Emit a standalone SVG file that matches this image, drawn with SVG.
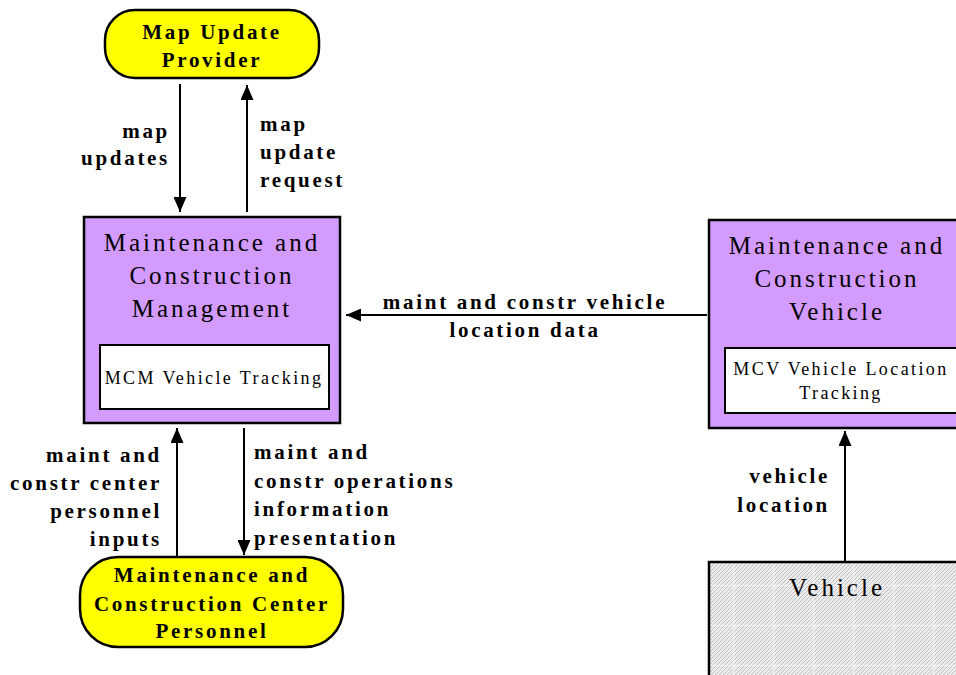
<svg xmlns="http://www.w3.org/2000/svg" width="956" height="675" viewBox="0 0 956 675">
<defs>
<style>
.term{fill:#ffff00;stroke:#000;stroke-width:2.5}
.proc{fill:#d49bff;stroke:#000;stroke-width:2.5}
.sub{fill:#fff;stroke:#000;stroke-width:2}
.tb{font-family:'Liberation Serif','Times New Roman',Tinos,Times,serif;font-weight:bold;font-size:21px;letter-spacing:2.7px;fill:#000}
.tt{font-family:'Liberation Serif','Times New Roman',Tinos,Times,serif;font-size:25px;letter-spacing:3px;fill:#000;text-anchor:middle}
.ts{font-family:'Liberation Serif','Times New Roman',Tinos,Times,serif;font-size:18px;letter-spacing:2.4px;fill:#000;text-anchor:middle}
.flow{stroke:#000;stroke-width:2;fill:none;marker-end:url(#ah)}
</style>
<marker id="ah" viewBox="0 0 15 13" refX="15" refY="6.5" markerWidth="15" markerHeight="13" markerUnits="userSpaceOnUse" orient="auto">
<path d="M0,0 L15,6.5 L0,13 z" fill="#000"/>
</marker>
<pattern id="hatch" width="40" height="40" patternUnits="userSpaceOnUse" x="693" y="585">
<rect width="40" height="40" fill="#ececec"/>
<path d="M-4,4 L4,-4 M0,8 L8,0 M0,12 L12,0 M0,16 L16,0 M0,20 L20,0 M0,24 L24,0 M0,28 L28,0 M0,32 L32,0 M0,36 L36,0 M0,40 L40,0 M4,40 L40,4 M8,40 L40,8 M12,40 L40,12 M16,40 L40,16 M20,40 L40,20 M24,40 L40,24 M28,40 L40,28 M32,40 L40,32 M36,40 L40,36" stroke="#b4b4b4" stroke-width="0.8"/>
<path d="M0,0 V40 M0,0 H40" stroke="#fff" stroke-width="1"/>
</pattern>
</defs>
<rect width="956" height="675" fill="#fff"/>

<g id="connectors">
<line class="flow" x1="180" y1="84" x2="180" y2="212"/>
<line class="flow" x1="247" y1="212" x2="247" y2="85"/>
<line class="flow" x1="707" y1="315" x2="346" y2="315"/>
<line class="flow" x1="177" y1="557" x2="177" y2="428"/>
<line class="flow" x1="244" y1="428" x2="244" y2="555"/>
<line class="flow" x1="845" y1="561" x2="845" y2="431"/>
<text class="tb" text-anchor="end" x="170" y="138">map</text>
<text class="tb" text-anchor="end" x="170" y="165">updates</text>
<text class="tb" x="260" y="131">map</text>
<text class="tb" x="260" y="159">update</text>
<text class="tb" x="260" y="187">request</text>
<text class="tb" text-anchor="middle" x="525" y="309">maint and constr vehicle</text>
<text class="tb" text-anchor="middle" x="525" y="337">location data</text>
<text class="tb" text-anchor="end" x="162" y="462">maint and</text>
<text class="tb" text-anchor="end" x="162" y="490">constr center</text>
<text class="tb" text-anchor="end" x="162" y="518">personnel</text>
<text class="tb" text-anchor="end" x="162" y="546">inputs</text>
<text class="tb" x="254" y="459">maint and</text>
<text class="tb" x="254" y="488">constr operations</text>
<text class="tb" x="254" y="516">information</text>
<text class="tb" x="254" y="545">presentation</text>
<text class="tb" text-anchor="end" x="830" y="483">vehicle</text>
<text class="tb" text-anchor="end" x="830" y="512">location</text>
</g>

<g id="map-update-provider">
<rect class="term" x="105" y="10" width="214" height="68" rx="30"/>
<text class="tb" text-anchor="middle" x="212" y="39">Map Update</text>
<text class="tb" text-anchor="middle" x="212" y="67">Provider</text>
</g>

<g id="mcm">
<rect class="proc" x="84" y="217" width="256" height="206"/>
<text class="tt" x="212" y="251">Maintenance and</text>
<text class="tt" x="212" y="284">Construction</text>
<text class="tt" x="212" y="317">Management</text>
<rect class="sub" x="100" y="345" width="229" height="64"/>
<text class="ts" x="214" y="384">MCM Vehicle Tracking</text>
</g>

<g id="mcv">
<rect class="proc" x="709" y="220" width="250" height="208"/>
<text class="tt" x="837" y="254">Maintenance and</text>
<text class="tt" x="837" y="287">Construction</text>
<text class="tt" x="837" y="320">Vehicle</text>
<rect class="sub" x="725" y="348" width="232" height="65"/>
<text class="ts" x="841" y="375">MCV Vehicle Location</text>
<text class="ts" x="841" y="399">Tracking</text>
</g>

<g id="mccp">
<rect class="term" x="80" y="557" width="263" height="90" rx="38"/>
<text class="tb" text-anchor="middle" x="212" y="582">Maintenance and</text>
<text class="tb" text-anchor="middle" x="212" y="611">Construction Center</text>
<text class="tb" text-anchor="middle" x="212" y="638">Personnel</text>
</g>

<g id="vehicle">
<rect x="709" y="562" width="260" height="130" fill="url(#hatch)" stroke="#000" stroke-width="2.5"/>
<text class="tt" x="837" y="596">Vehicle</text>
</g>
</svg>
